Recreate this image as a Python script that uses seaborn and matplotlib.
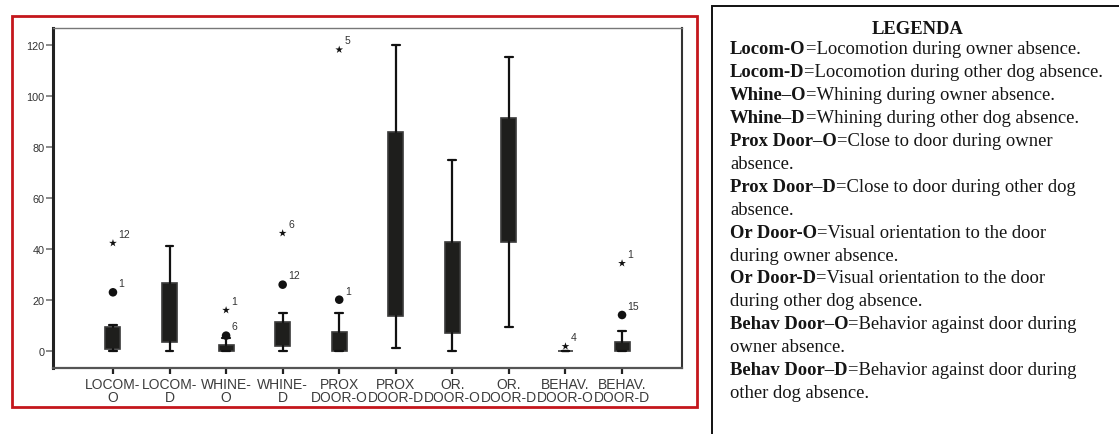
import matplotlib
matplotlib.use("Agg")
import matplotlib.pyplot as plt
from matplotlib.patches import Rectangle
import seaborn as sns
import pandas as pd

# box summaries (SPSS style boxplot)
categories = ["LOCOM-\nO", "LOCOM-\nD", "WHINE-\nO", "WHINE-\nD", "PROX\nDOOR-O",
              "PROX\nDOOR-D", "OR.\nDOOR-O", "OR.\nDOOR-D", "BEHAV.\nDOOR-O", "BEHAV.\nDOOR-D"]
whisker_low = [0, 0, 0, 0, 0, 1.2, 0, 9.3, 0, 0]
q1 = [0.8, 3.6, 0, 2.1, 0, 13.6, 6.9, 42.6, 0, 0]
q3 = [9.4, 26.7, 2.3, 11.5, 7.6, 85.9, 42.9, 91.2, 0, 3.6]
whisker_high = [10, 41, 5, 15, 15, 120, 75, 115.2, 0, 8]

# outliers (circle) and extremes (star) with case numbers
outlier_pos = [0, 0, 2, 2, 3, 3, 4, 4, 8, 9, 9]
outlier_val = [23, 42.3, 6, 16, 26, 46.2, 20.1, 118.2, 1.8, 14.1, 34.4]
outlier_kind = ["circle", "star", "circle", "star", "circle", "star",
                "circle", "star", "star", "circle", "star"]
outlier_case = ["1", "12", "6", "1", "12", "6", "1", "5", "4", "15", "1"]

legend_title = "LEGENDA"
legend_lines = [
    ("Locom-O", "=Locomotion during owner absence."),
    ("Locom-D", "=Locomotion during other dog absence."),
    ("Whine\u2013O", "=Whining during owner absence."),
    ("Whine\u2013D", "=Whining during other dog absence."),
    ("Prox Door\u2013O", "=Close to door during owner"),
    ("", "absence."),
    ("Prox Door\u2013D", "=Close to door during other dog"),
    ("", "absence."),
    ("Or Door-O", "=Visual orientation to the door"),
    ("", "during owner absence."),
    ("Or Door-D", "=Visual orientation to the door"),
    ("", "during other dog absence."),
    ("Behav Door\u2013O", "=Behavior against door during"),
    ("", "owner absence."),
    ("Behav Door\u2013D", "=Behavior against door during"),
    ("", "other dog absence."),
]

sns.set_style("white")
plt.rcParams["font.family"] = ["Liberation Sans", "DejaVu Sans"]

W, H = 1119, 435
fig = plt.figure(figsize=(W / 100, H / 100), dpi=100)
ax = fig.add_axes([53 / W, 1 - 369 / H, (682 - 53) / W, (369 - 29) / H])

box_color = "#1e1e1c"
stats = []
for i in range(len(categories)):
    stats.append({"whislo": whisker_low[i], "q1": q1[i], "med": q1[i],
                  "q3": q3[i], "whishi": whisker_high[i], "fliers": []})
ax.bxp(stats, positions=range(len(categories)), widths=0.265, capwidths=0.14,
       patch_artist=True, showfliers=False,
       boxprops=dict(facecolor=box_color, edgecolor="#3a3a3a", linewidth=1.2),
       whiskerprops=dict(color="#111111", linewidth=1.6),
       capprops=dict(color="#111111", linewidth=1.6),
       medianprops=dict(visible=False))

out_df = pd.DataFrame({"pos": outlier_pos, "value": outlier_val,
                       "kind": outlier_kind, "case": outlier_case})
sns.scatterplot(data=out_df[out_df["kind"] == "circle"], x="pos", y="value",
                marker="o", s=38, color="#111111", edgecolor="none", ax=ax,
                legend=False, zorder=5)
sns.scatterplot(data=out_df[out_df["kind"] == "star"], x="pos", y="value",
                marker="*", s=34, color="#111111", edgecolor="none", ax=ax,
                legend=False, zorder=5)
for _, r in out_df.iterrows():
    ax.annotate(r["case"], (r["pos"], r["value"]), xytext=(4, 3),
                textcoords="offset points", fontsize=7.5, color="#333333",
                ha="left", va="bottom")

ax.set_xlim(-1.06, len(categories) - 1 + 1.06)
ax.set_ylim(-6.7, 126.7)
ax.set_xticks(range(len(categories)))
ax.set_xticklabels(categories, fontsize=10, color="#3c3c3c", linespacing=0.9)
ax.set_yticks([0, 20, 40, 60, 80, 100, 120])
ax.tick_params(axis="y", labelsize=7.8, labelcolor="#333333", length=5,
               width=1.2, color="#777777", left=True, pad=1)
ax.tick_params(axis="x", length=4.5, width=1.6, color="#222222", bottom=True, pad=2)
ax.set_xlabel("")
ax.set_ylabel("")
ax.grid(False)
ax.spines["left"].set_linewidth(2.2)
ax.spines["left"].set_color("#222222")
ax.spines["bottom"].set_linewidth(1.6)
ax.spines["bottom"].set_color("#555555")
ax.spines["top"].set_linewidth(1.0)
ax.spines["top"].set_color("#777777")
ax.spines["right"].set_linewidth(1.5)
ax.spines["right"].set_color("#333333")

# red frame around the chart
fig.patches.append(Rectangle((12 / W, 1 - 408 / H), 685 / W, 391 / H,
                             transform=fig.transFigure, fill=False,
                             edgecolor="#c4161c", linewidth=2))
# legend box, running off the right and bottom edges
fig.patches.append(Rectangle((712 / W, -0.05), 1.0, 1.05 - 7 / H,
                             transform=fig.transFigure, fill=False,
                             edgecolor="#111111", linewidth=1.4))

serif = ["Liberation Serif", "DejaVu Serif"]
fsize = 13.4
fig.text(918 / W, 1 - 30 / H, legend_title, fontsize=fsize, fontweight="bold",
         family=serif, ha="center", va="center", color="#151515")

renderer = fig.canvas.get_renderer()
x0 = 730 / W
for i, (bold, rest) in enumerate(legend_lines):
    y = 1 - (50 + i * 22.9) / H
    x = x0
    if bold:
        t = fig.text(x, y, bold, fontsize=fsize, fontweight="bold", family=serif,
                     ha="left", va="center", color="#151515")
        bb = t.get_window_extent(renderer=renderer)
        x = bb.x1 / W
    fig.text(x, y, rest, fontsize=fsize, family=serif, ha="left", va="center",
             color="#151515")

fig.savefig("out.png", dpi=100)
